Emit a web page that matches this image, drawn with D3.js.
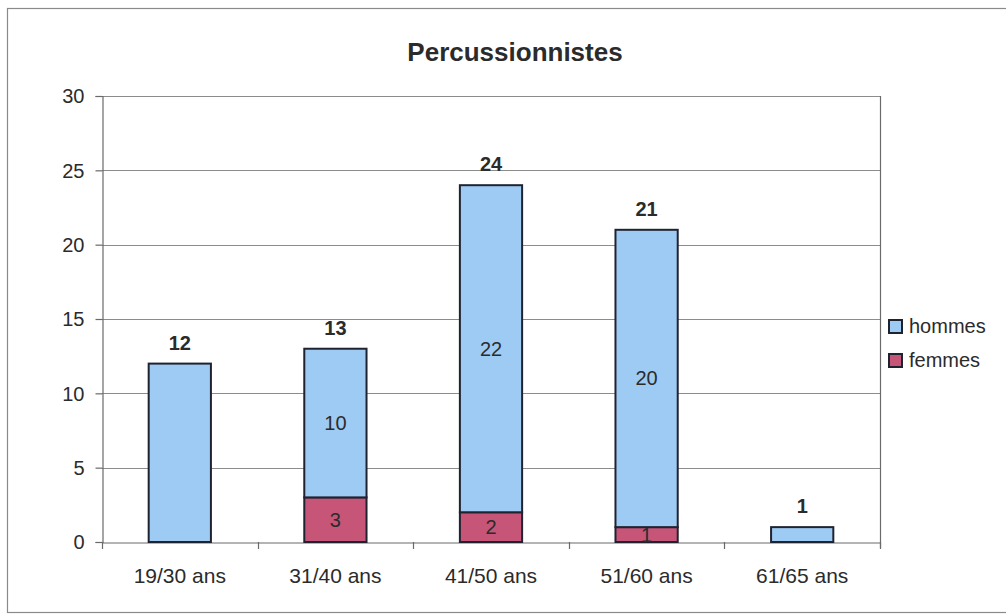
<!DOCTYPE html>
<html>
<head>
<meta charset="utf-8">
<script src="https://cdn.jsdelivr.net/npm/d3@7/dist/d3.min.js"></script>
<style>
  html, body { margin: 0; padding: 0; background: #ffffff; }
  svg { display: block; }
  text { font-family: Arial, "Liberation Sans", sans-serif; fill: #2b2b2b; }
</style>
</head>
<body>
<svg id="chart" width="1006" height="615"></svg>
<script>
// ---- data ----
const title = "Percussionnistes";
const categories = ["19/30 ans", "31/40 ans", "41/50 ans", "51/60 ans", "61/65 ans"];
const seriesNames = ["hommes", "femmes"];
const hommes = [12, 10, 22, 20, 1];
const femmes = [0, 3, 2, 1, 0];
const yTicks = [0, 5, 10, 15, 20, 25, 30];

// ---- layout ----
const plot = { left: 102, top: 96, right: 880, bottom: 542 };
const colors = { hommes: "#9ecbf4", femmes: "#c65577" };

const svg = d3.select("#chart");

// chart area border
svg.append("rect")
  .attr("x", 7.5).attr("y", 8.5).attr("width", 1010).attr("height", 604)
  .attr("fill", "#ffffff").attr("stroke", "#8a8a8a").attr("stroke-width", 1.2);

const x = d3.scaleBand().domain(categories).range([plot.left, plot.right]).paddingInner(0.6).paddingOuter(0.3);
const xBand = d3.scaleBand().domain(categories).range([plot.left, plot.right]);
const y = d3.scaleLinear().domain([0, 30]).range([plot.bottom, plot.top]);

// title
svg.append("text")
  .attr("x", 515).attr("y", 61)
  .attr("text-anchor", "middle")
  .attr("font-size", 26).attr("font-weight", "bold")
  .text(title);

// gridlines
svg.append("g").selectAll("line").data(yTicks.filter(d => d > 0)).join("line")
  .attr("x1", plot.left).attr("x2", plot.right)
  .attr("y1", d => Math.round(y(d)) + 0.5).attr("y2", d => Math.round(y(d)) + 0.5)
  .attr("stroke", "#8c8c8c").attr("stroke-width", 1.2);

// right border of plot area
svg.append("line")
  .attr("x1", plot.right + 0.5).attr("x2", plot.right + 0.5)
  .attr("y1", plot.top).attr("y2", plot.bottom + 6)
  .attr("stroke", "#6a6a6a").attr("stroke-width", 1.2);

// y axis
const yAxis = svg.append("g")
  .attr("transform", `translate(${plot.left + 0.5},0)`)
  .call(d3.axisLeft(y).tickValues(yTicks).tickSize(7).tickPadding(11));
yAxis.select(".domain").attr("stroke", "#6a6a6a").attr("stroke-width", 1.2);
yAxis.selectAll(".tick line").attr("stroke", "#6a6a6a").attr("stroke-width", 1.2);
yAxis.selectAll(".tick text")
  .attr("font-size", 20).attr("font-family", "Arial, 'Liberation Sans', sans-serif")
  .attr("fill", "#2b2b2b").attr("dy", "0.34em");

// x axis
const xAxis = svg.append("g")
  .attr("transform", `translate(0,${plot.bottom + 0.5})`)
  .call(d3.axisBottom(xBand).tickSize(0).tickPadding(0));
xAxis.select(".domain").attr("stroke", "#6a6a6a").attr("stroke-width", 1.2);
xAxis.selectAll(".tick text")
  .attr("y", 40).attr("dy", "0")
  .attr("font-size", 21).attr("font-family", "Arial, 'Liberation Sans', sans-serif")
  .attr("fill", "#2b2b2b");
// category separators
const bounds = categories.map(c => xBand(c)).concat([plot.right]);
svg.append("g").selectAll("line").data(bounds).join("line")
  .attr("x1", d => Math.round(d) + 0.5).attr("x2", d => Math.round(d) + 0.5)
  .attr("y1", plot.bottom).attr("y2", plot.bottom + 7)
  .attr("stroke", "#6a6a6a").attr("stroke-width", 1.2);

// stacked bars
const rows = categories.map((c, i) => ({ cat: c, hommes: hommes[i], femmes: femmes[i] }));
const stack = d3.stack().keys(["femmes", "hommes"])(rows);
const gBars = svg.append("g");
stack.forEach(layer => {
  gBars.selectAll(null).data(layer.filter(d => d[1] - d[0] > 0)).join("rect")
    .attr("x", d => x(d.data.cat))
    .attr("width", x.bandwidth())
    .attr("y", d => y(d[1]))
    .attr("height", d => y(d[0]) - y(d[1]))
    .attr("fill", colors[layer.key])
    .attr("stroke", "#1f2330").attr("stroke-width", 2);
});

// inner labels (only where both series are present)
stack.forEach(layer => {
  svg.append("g").selectAll("text")
    .data(layer.filter(d => d.data.femmes > 0 && d.data.hommes > 0))
    .join("text")
    .attr("x", d => x(d.data.cat) + x.bandwidth() / 2)
    .attr("y", d => y((d[0] + d[1]) / 2))
    .attr("dy", "0.35em")
    .attr("text-anchor", "middle")
    .attr("font-size", 20)
    .text(d => d[1] - d[0]);
});

// total labels
svg.append("g").selectAll("text").data(rows).join("text")
  .attr("x", d => x(d.cat) + x.bandwidth() / 2)
  .attr("y", d => y(d.hommes + d.femmes) - 14)
  .attr("text-anchor", "middle")
  .attr("font-size", 20).attr("font-weight", "bold")
  .text(d => d.hommes + d.femmes);

// legend
const legend = svg.append("g");
seriesNames.forEach((name, i) => {
  const ly = 320 + i * 34;
  legend.append("rect")
    .attr("x", 889).attr("y", ly).attr("width", 13).attr("height", 13)
    .attr("fill", colors[name]).attr("stroke", "#1f2330").attr("stroke-width", 2);
  legend.append("text")
    .attr("x", 909).attr("y", ly + 13)
    .attr("font-size", 20)
    .text(name);
});
</script>
</body>
</html>
